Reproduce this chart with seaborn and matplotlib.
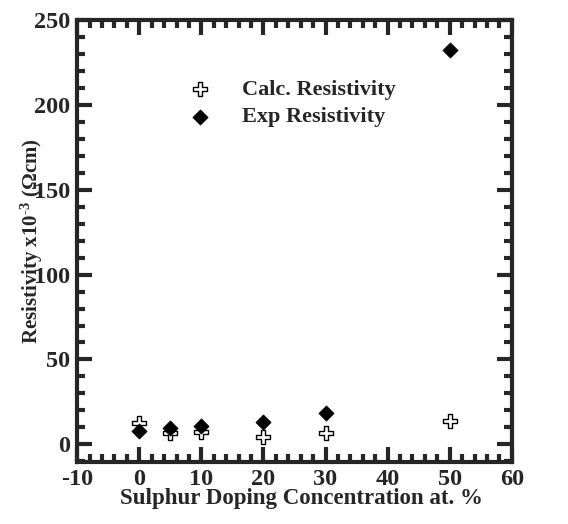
import numpy as np
import pandas as pd
import matplotlib
matplotlib.use('Agg')
import matplotlib.pyplot as plt
import seaborn as sns
from matplotlib.ticker import MultipleLocator

# data
doping = [0, 5, 10, 20, 30, 50]
calc_res = [12.5, 6.5, 7.0, 4.5, 6.5, 14.0]
exp_res = [7.7, 9.5, 10.6, 13.2, 18.5, 232.0]

df = pd.DataFrame({
    'x': doping * 2,
    'y': calc_res + exp_res,
    'kind': ['Calc. Resistivity'] * len(doping) + ['Exp Resistivity'] * len(doping),
})

sns.set_style('ticks')
plt.rcParams['font.family'] = ['Liberation Serif', 'DejaVu Serif']
plt.rcParams['font.weight'] = 'bold'
plt.rcParams['axes.unicode_minus'] = False
plt.rcParams['mathtext.fontset'] = 'custom'
plt.rcParams['mathtext.rm'] = 'Liberation Serif:bold'
plt.rcParams['mathtext.it'] = 'Liberation Serif:bold'
plt.rcParams['mathtext.bf'] = 'Liberation Serif:bold'

fig = plt.figure(figsize=(5.68, 5.24), dpi=100)
ax = fig.add_axes([0.136, 0.118, 0.765, 0.844])

calc = df[df.kind == 'Calc. Resistivity']
exp = df[df.kind == 'Exp Resistivity']
sns.scatterplot(data=calc, x='x', y='y', ax=ax, marker='P', s=100,
                facecolor='white', edgecolor='black', linewidth=1.0,
                label='Calc. Resistivity', zorder=3)
sns.scatterplot(data=exp, x='x', y='y', ax=ax, marker='D', s=60,
                color='black', edgecolor='black', linewidth=0.5,
                label='Exp Resistivity', zorder=4)

ax.set_xlim(-10, 60)
ax.set_ylim(-10.5, 250)
ax.xaxis.set_major_locator(MultipleLocator(10))
ax.xaxis.set_minor_locator(MultipleLocator(2))
ax.yaxis.set_major_locator(MultipleLocator(50))
ax.yaxis.set_minor_locator(MultipleLocator(10))
ax.tick_params(which='both', direction='in', top=True, right=True, width=3)
ax.tick_params(which='major', length=11, labelsize=17.5, pad=5)
ax.tick_params(which='minor', length=6)
for s in ax.spines.values():
    s.set_linewidth(3)
    s.set_visible(True)

ax.set_xlabel('Sulphur Doping Concentration at. %', fontsize=16.5, fontweight='bold')
ax.xaxis.set_label_coords(0.515, -0.058)
ax.set_ylabel(r'Resistivity x10$^{\text{-3}}$ ($\Omega$cm)', fontsize=15, fontweight='bold')
ax.yaxis.set_label_coords(-0.075, 0.5)

leg = ax.legend(frameon=False, loc='upper left', bbox_to_anchor=(0.185, 0.91),
                fontsize=16, handletextpad=0.9, labelspacing=0.3)
for t in leg.get_texts():
    t.set_fontweight('bold')

fig.savefig('out.png', dpi=100)
